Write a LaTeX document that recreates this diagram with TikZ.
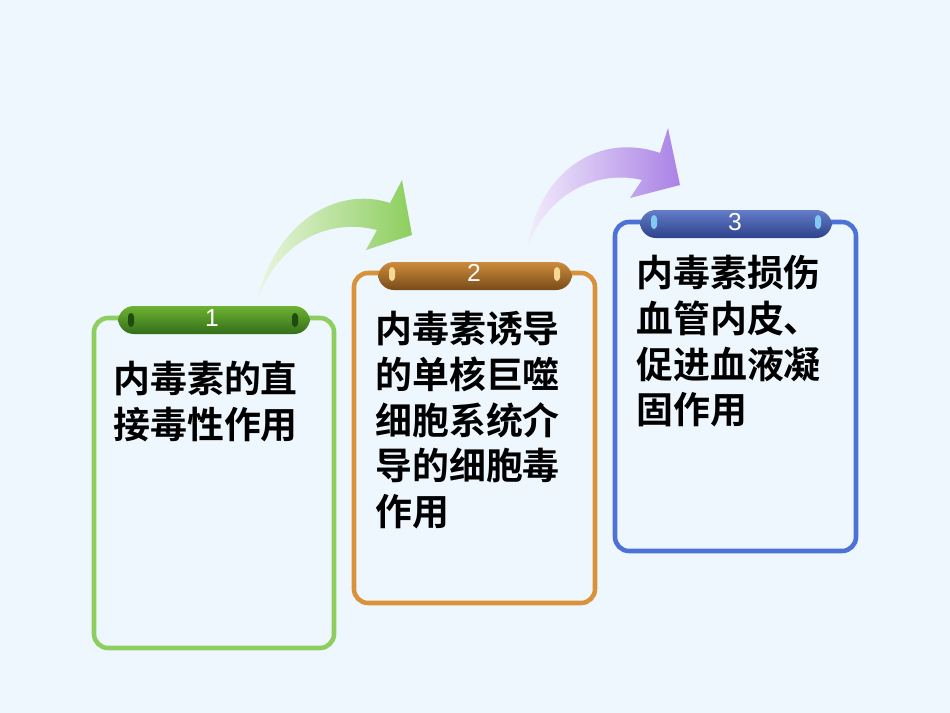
\documentclass[tikz,border=0pt]{standalone}
\usepackage{fontspec}
\setmainfont{Liberation Sans}
\newfontfamily\cjk{Noto Sans CJK SC Bold}
\begin{document}
\begin{tikzpicture}[x=0.02cm,y=-0.02cm,
 box/.style={rounded corners=8pt,line width=2.6pt},
 txt/.style={anchor=north west,align=left,font=\cjk\fontsize{21}{26}\selectfont,text=black,inner sep=0pt},
 tab/.style={rounded corners=9pt},
 num/.style={text=white,font=\fontsize{14}{14}\selectfont}]
\fill[fill={rgb,255:red,238;green,247;blue,254}] (0,0) rectangle (950,713);
\definecolor{g}{RGB}{141,206,94}\definecolor{o}{RGB}{217,146,58}\definecolor{b}{RGB}{76,114,214}
\definecolor{pu}{RGB}{170,130,230}
% arrows
\shade[left color=g!20!white,right color=g] (258,298) .. controls (275,225) and (335,185) .. (390,203) -- (402,180) -- (412,235) -- (366,250) -- (377,230) .. controls (330,218) and (280,240) .. (258,298) -- cycle;
\shade[left color=pu!15!white,right color=pu] (528,245) .. controls (540,170) and (600,132) .. (660,153) -- (668,128) -- (680,185) -- (630,198) -- (642,180) .. controls (600,170) and (550,190) .. (528,245) -- cycle;
% boxes
\draw[box,draw=g] (94,318) rectangle (334,648);
\draw[box,draw=o] (354,273) rectangle (595,603);
\draw[box,draw=b] (615,222) rectangle (856,551);
% tabs
\shade[tab,top color={rgb,255:red,110;green,178;blue,50},bottom color={rgb,255:red,50;green,110;blue,25}] (118,306) rectangle (310,334);
\shade[tab,top color={rgb,255:red,205;green,140;blue,60},bottom color={rgb,255:red,120;green,75;blue,25}] (378,262) rectangle (572,290);
\shade[tab,top color={rgb,255:red,100;green,125;blue,200},bottom color={rgb,255:red,45;green,65;blue,140}] (640,210) rectangle (832,238);
\foreach \x in {131,295}\fill[rounded corners=2pt,fill={rgb,255:red,30;green,75;blue,15}] (\x-3,313) rectangle (\x+3,327);
\foreach \x in {392,557}\fill[rounded corners=2pt,fill={rgb,255:red,245;green,215;blue,150}] (\x-3,267) rectangle (\x+3,281);
\foreach \x in {654,818}\fill[rounded corners=2pt,fill={rgb,255:red,130;green,200;blue,240}] (\x-3,215) rectangle (\x+3,229);
\node[num] (n1) at (212,318) {1};
\node[num] (n2) at (474,273) {2};
\node[num] (n3) at (735,222) {3};
\node[txt] (t1) at (113,361) {内毒素的直\\接毒性作用};
\node[txt] (t2) at (375,311) {内毒素诱导\\的单核巨噬\\细胞系统介\\导的细胞毒\\作用};
\node[txt] (t3) at (636,255) {内毒素损伤\\血管内皮、\\促进血液凝\\固作用};
\end{tikzpicture}
\end{document}
